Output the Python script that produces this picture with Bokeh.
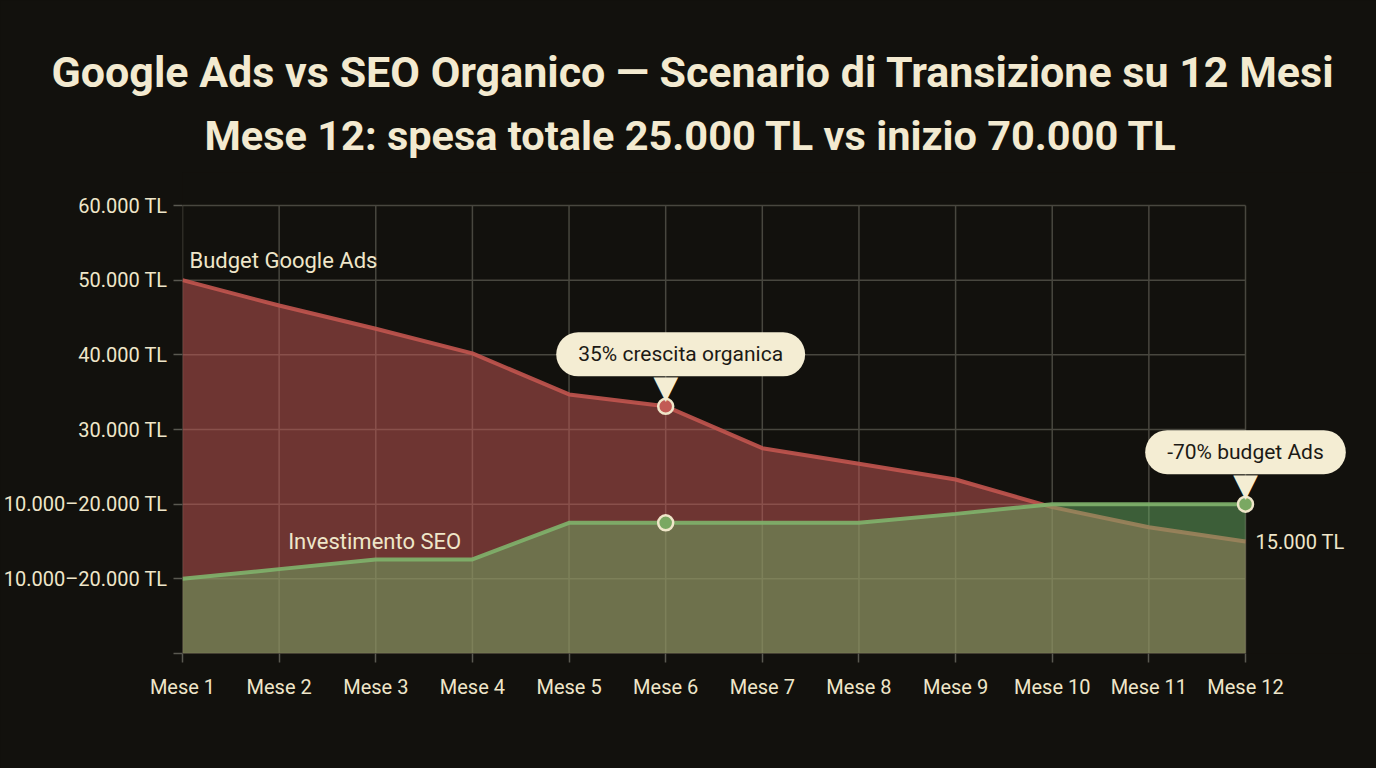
import numpy as np
from bokeh.plotting import figure
from bokeh.models import Range1d, FixedTicker, Label, Title
from bokeh.embed import file_html
from bokeh.resources import INLINE

# valori
mesi = ["Mese 1", "Mese 2", "Mese 3", "Mese 4", "Mese 5", "Mese 6",
        "Mese 7", "Mese 8", "Mese 9", "Mese 10", "Mese 11", "Mese 12"]
budget_ads = [50000, 46600, 43500, 40200, 34700, 33100,
              27500, 25400, 23300, 19600, 16900, 15000]
seo = [10000, 11300, 12600, 12600, 17500, 17500,
       17500, 17500, 18700, 20000, 20000, 20000]
y_ticks = [0, 10000, 20000, 30000, 40000, 50000, 60000]
y_tick_labels = ["", "10.000–20.000 TL", "10.000–20.000 TL", "30.000 TL",
                 "40.000 TL", "50.000 TL", "60.000 TL"]

titolo = "Google Ads vs SEO Organico — Scenario di Transizione su 12 Mesi"
sottotitolo = "Mese 12: spesa totale 25.000 TL vs inizio 70.000 TL"

BG = "#12110d"
CREAM = "#efe6c9"
GRID = "#48473f"
RED = "#c95a58"
RED_LINE = "#c2554f"
GREEN = "#70ba6a"
GREEN_LINE = "#7fb36b"
FONT = "Roboto"

# geometria: il frame arriva fino al bordo destro, cosi' fumetti ed etichette
# a destra di Mese 12 non vengono tagliati
W, H = 1376, 768
LEFT, TOP, BOTTOM = 181, 172, 115
PX_X = 1063 / 11          # px per mese
PX_Y = 448 / 60000        # px per TL
frame_w = W - LEFT
frame_h = H - TOP - BOTTOM

x = np.arange(len(mesi))

p = figure(frame_width=frame_w, frame_height=frame_h,
           min_border_left=LEFT, min_border_right=0,
           min_border_top=TOP, min_border_bottom=BOTTOM,
           x_range=Range1d(0, frame_w / PX_X), y_range=Range1d(0, frame_h / PX_Y),
           output_backend="svg", toolbar_location=None, tools="")
p.background_fill_color = BG
p.border_fill_color = BG
p.outline_line_color = None
p.grid.visible = False
p.styles = {"background-color": BG}

# titoli: il primo aggiunto sta piu' vicino al grafico; allineati a sinistra
# con offset per centrarli sulla pagina
p.add_layout(Title(text=sottotitolo, align="left", offset=22,
                   text_font=FONT, text_font_style="bold", text_font_size="41.5px",
                   text_color="#f3ead0", standoff=25), "above")
p.add_layout(Title(text=titolo, align="left", offset=50 - LEFT,
                   text_font=FONT, text_font_style="bold", text_font_size="43px",
                   text_color="#f3ead0", standoff=0), "above")

# griglia disegnata a mano, limitata all'area Mese 1..12 / 0..60.000
p.segment(x0=[0] * len(y_ticks), x1=[x[-1]] * len(y_ticks), y0=y_ticks, y1=y_ticks,
          line_color=GRID, line_width=1.5, level="underlay")
p.segment(x0=x, x1=x, y0=[0] * len(x), y1=[y_ticks[-1]] * len(x),
          line_color=GRID, line_width=1.5, level="underlay")

# aree e linee
p.varea(x=x, y1=0, y2=budget_ads, fill_color=RED, fill_alpha=0.5)
p.line(x, budget_ads, line_color=RED_LINE, line_width=4, line_alpha=0.9)
p.varea(x=x, y1=0, y2=seo, fill_color=GREEN, fill_alpha=0.46)
p.line(x, seo, line_color=GREEN_LINE, line_width=4, line_alpha=0.9)

# punti evidenziati
p.scatter([x[5]], [budget_ads[5]], size=15, fill_color="#c25a55",
          line_color=CREAM, line_width=2.5)
p.scatter([x[5], x[11]], [seo[5], seo[11]], size=15, fill_color="#7aa862",
          line_color=CREAM, line_width=2.5)

# assi
p.xaxis.ticker = FixedTicker(ticks=list(x))
p.xaxis.major_label_overrides = {int(i): m for i, m in zip(x, mesi)}
p.yaxis.ticker = FixedTicker(ticks=y_ticks)
p.yaxis.major_label_overrides = dict(zip(y_ticks, y_tick_labels))
for ax in (p.xaxis, p.yaxis):
    ax.axis_line_color = None
    ax.major_tick_line_color = "#5a5951"
    ax.major_tick_line_width = 1.5
    ax.major_tick_in = 0
    ax.major_tick_out = 9
    ax.minor_tick_line_color = None
    ax.major_label_text_color = CREAM
    ax.major_label_text_font = FONT
    ax.major_label_text_font_size = "20px"
p.xaxis.major_label_standoff = 12
p.yaxis.major_label_standoff = 6

# etichette serie
p.add_layout(Label(x=0, y=budget_ads[0], x_offset=7, y_offset=20,
                   text="Budget Google Ads", text_baseline="middle",
                   text_font=FONT, text_font_size="22px", text_color=CREAM))
p.add_layout(Label(x=1, y=seo[1], x_offset=9, y_offset=28,
                   text="Investimento SEO", text_baseline="middle",
                   text_font=FONT, text_font_size="22px", text_color=CREAM))
p.add_layout(Label(x=11, y=budget_ads[11], x_offset=10, y_offset=0,
                   text="15.000 TL", text_baseline="middle",
                   text_font=FONT, text_font_size="20px", text_color=CREAM))

# fumetti
BOX = "#f4edd3"
for xi, yi, dx, txt in ((5, budget_ads[5], 15, "35% crescita organica"),
                        (11, seo[11], 0, "-70% budget Ads")):
    p.add_layout(Label(x=xi, y=yi, y_offset=19, text="▼",
                       text_align="center", text_baseline="middle",
                       text_font="DejaVu Sans", text_font_size="32px",
                       text_color=BOX))
    p.add_layout(Label(x=xi, y=yi, x_offset=dx, y_offset=52, text=txt,
                       text_align="center", text_baseline="middle",
                       text_font=FONT, text_font_size="21px", text_color="#1c1a15",
                       background_fill_color=BOX, padding=(22, 10),
                       border_radius=22))

open("out.html", "w").write(file_html(p, INLINE))
